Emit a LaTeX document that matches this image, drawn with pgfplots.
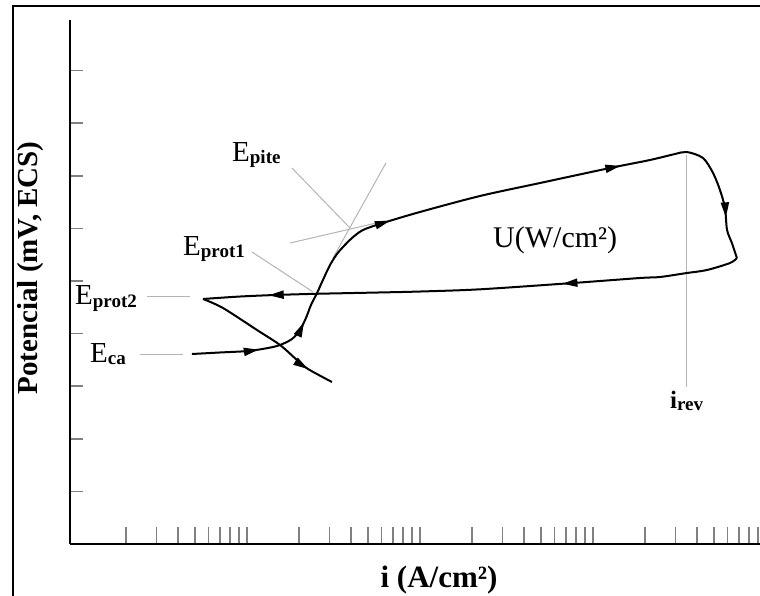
\documentclass[border=0pt]{standalone}
\usepackage{fontspec}
\setmainfont{Liberation Serif}
\usepackage{pgfplots}
\pgfplotsset{compat=1.18}
\usetikzlibrary{decorations.markings,arrows.meta}
\definecolor{lg}{RGB}{180,180,180}
\newcommand{\subs}[1]{\raisebox{-2pt}{\fontsize{19}{19}\selectfont\bfseries #1}}
\newcommand{\arr}{\arrow{Triangle[length=15pt,width=8pt]}}
\begin{document}
\begin{tikzpicture}[x=1pt,y=1pt]
\path[use as bounding box] (0,0) rectangle (760,595);
\draw[line width=1.5pt] (13,-2) -- (13,589) -- (762,589);
\begin{axis}[
  at={(70pt,51pt)}, anchor=south west,
  x=173pt, y=52.6pt,
  xmin=-0.023, xmax=3.965, ymin=0, ymax=9.962,
  axis lines*=left,
  axis line style={line width=1.9pt},
  tick align=inside,
  xtick={1,2,3},
  minor xtick={0.30103,0.47712,0.60206,0.69897,0.77815,0.84510,0.90309,0.95424,
               1.30103,1.47712,1.60206,1.69897,1.77815,1.84510,1.90309,1.95424,
               2.30103,2.47712,2.60206,2.69897,2.77815,2.84510,2.90309,2.95424,
               3.30103,3.47712,3.60206,3.69897,3.77815,3.84510,3.90309,3.95424},
  ytick={1,2,3,4,5,6,7,8,9},
  xticklabels={}, yticklabels={},
  xtick style={line width=1.5pt, /pgfplots/major tick length=17pt, /pgfplots/minor tick length=17pt},
  ytick style={line width=1.5pt, /pgfplots/major tick length=13pt},
  clip=false,
]
% grey construction / leader lines
\addplot[lg, line width=1pt] coordinates {(1.260,7.148) (1.595,6.008)};
\addplot[lg, line width=1pt] coordinates {(1.249,5.722) (1.798,6.141)};
\addplot[lg, line width=1pt] coordinates {(1.803,7.243) (1.497,5.437)};
\addplot[lg, line width=1pt] coordinates {(1.029,5.551) (1.382,4.791)};
\addplot[lg, line width=1pt] coordinates {(0.422,4.696) (0.671,4.696)};
\addplot[lg, line width=1pt] coordinates {(0.382,3.612) (0.630,3.612)};
\addplot[lg, line width=1pt] coordinates {(3.543,7.395) (3.543,2.985)};
% forward scan
\addplot[black, line width=2pt, smooth, tension=0.5,
  postaction={decorate},
  decoration={markings,
    mark=at position 67pt with {\arr},
    mark=at position 123pt with {\arr},
    mark=at position 263pt with {\arr},
    mark=at position 500pt with {\arr},
    mark=at position 650pt with {\arr}}]
coordinates {(0.682,3.612) (0.844,3.641) (1.006,3.669) (1.121,3.726) (1.191,3.783)
 (1.260,3.897) (1.306,4.068) (1.341,4.297) (1.370,4.544) (1.405,4.772) (1.439,5.019)
 (1.480,5.304) (1.520,5.513) (1.555,5.646) (1.607,5.817) (1.671,5.970) (1.786,6.103)
 (2.000,6.312) (2.347,6.616) (2.694,6.863) (3.098,7.148) (3.329,7.300) (3.474,7.414)
 (3.543,7.452) (3.636,7.338) (3.694,7.053) (3.734,6.730) (3.763,6.388) (3.775,5.970)
 (3.803,5.722) (3.832,5.437)};
% reverse scan
\addplot[black, line width=2pt, smooth, tension=0.5,
  postaction={decorate},
  decoration={markings,
    mark=at position 178pt with {\arr},
    mark=at position 472pt with {\arr}}]
coordinates {(3.832,5.437) (3.792,5.342) (3.659,5.209) (3.543,5.152) (3.387,5.076)
 (3.272,5.057) (2.884,4.962) (2.347,4.842) (2.000,4.800) (1.769,4.782) (1.405,4.757)
 (1.173,4.735) (0.960,4.705) (0.746,4.658)};
% cathodic tail
\addplot[black, line width=2pt, smooth, tension=0.5,
  postaction={decorate},
  decoration={markings,
    mark=at position 127pt with {\arr}}]
coordinates {(0.746,4.658) (0.861,4.487) (1.058,4.068) (1.191,3.783) (1.289,3.498)
 (1.353,3.327) (1.491,3.080)};
\end{axis}
% labels
\node[anchor=base west, inner sep=0pt, font=\fontsize{29}{29}\selectfont] at (232,433) {E\subs{pite}};
\node[anchor=base west, inner sep=0pt, font=\fontsize{29}{29}\selectfont] at (183,339) {E\subs{prot1}};
\node[anchor=base west, inner sep=0pt, font=\fontsize{29}{29}\selectfont] at (75,290) {E\subs{prot2}};
\node[anchor=base west, inner sep=0pt, font=\fontsize{29}{29}\selectfont] at (90,233) {E\subs{ca}};
\node[anchor=base west, inner sep=0pt, font=\fontsize{30}{30}\selectfont] at (493,347) {U(W/cm²)};
\node[anchor=base west, inner sep=0pt, font=\fontsize{25}{25}\selectfont\bfseries] at (670,187) {i\subs{rev}};
\node[anchor=base, inner sep=0pt, rotate=90, font=\fontsize{29}{29}\selectfont\bfseries] at (37,327) {Potencial (mV, ECS)};
\node[anchor=base, inner sep=0pt, font=\fontsize{31}{31}\selectfont\bfseries] at (439,8) {i (A/cm²)};
\end{tikzpicture}
\end{document}
